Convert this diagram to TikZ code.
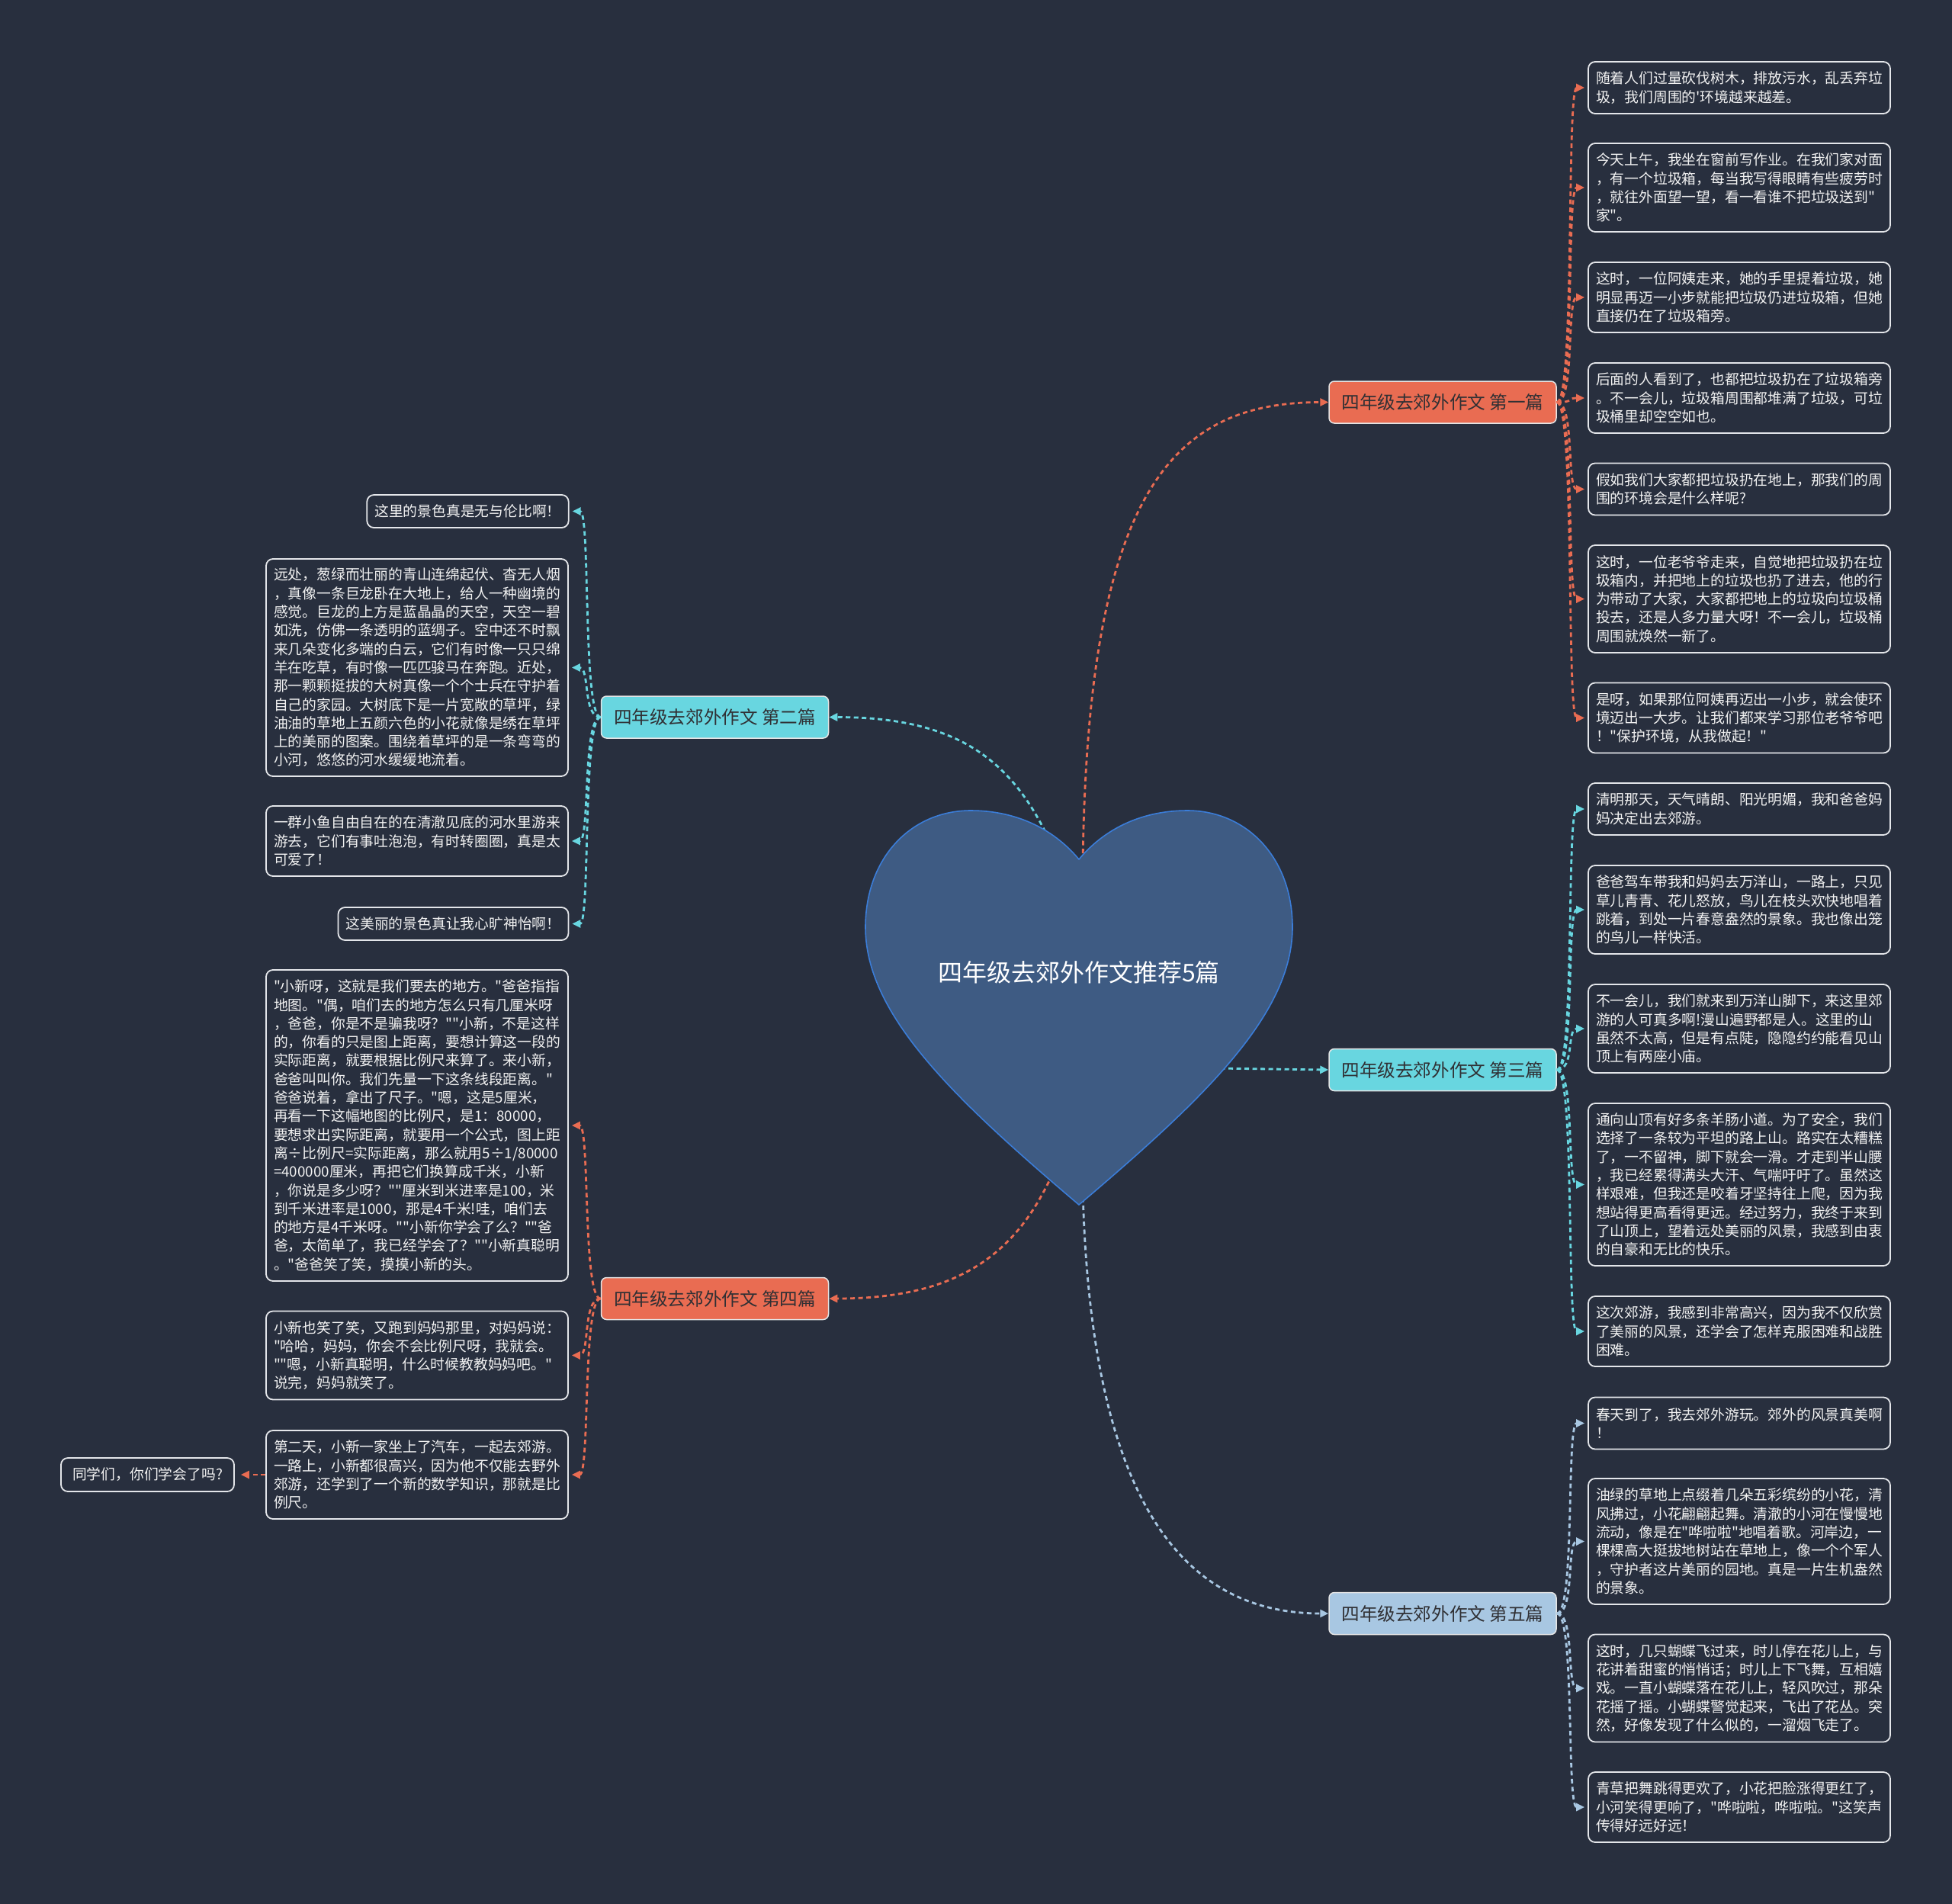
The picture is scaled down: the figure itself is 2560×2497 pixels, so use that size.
\documentclass[tikz,border=0pt]{standalone}
\usepackage{fontspec}
\newfontfamily\cjk{Noto Sans CJK SC}
\usetikzlibrary{arrows.meta,calc}
\definecolor{bg}{RGB}{40,47,62}
\definecolor{orangeC}{RGB}{233,108,82}
\definecolor{cyanC}{RGB}{104,214,224}
\definecolor{blueC}{RGB}{168,199,226}
\definecolor{leafline}{RGB}{228,230,234}
\definecolor{leaftext}{RGB}{242,242,242}
\definecolor{branchtext}{RGB}{48,48,52}
\definecolor{heartfill}{RGB}{62,91,131}
\definecolor{heartline}{RGB}{59,125,216}
\newcommand\leaffont{\cjk\fontsize{18.8pt}{24.3pt}\selectfont}
\newcommand\branchfont{\cjk\fontsize{23.6pt}{28pt}\selectfont}
\newcommand\titlefont{\cjk\fontsize{32pt}{38pt}\selectfont}
\begin{document}
\begin{tikzpicture}[x=1pt,y=-1pt,
  leaf/.style={draw=leafline, line width=1.8pt, rounded corners=9pt, fill=bg, text=leaftext, inner xsep=10pt, inner ysep=0pt, font=\leaffont},
  mleaf/.style={leaf, text width=376pt, align=left},
  branch/.style={draw=white!90!black, line width=1.5pt, rounded corners=7pt, minimum width=298pt, minimum height=55pt, inner sep=0pt, font=\branchfont, text=branchtext},
  conn/.style={dash pattern=on 6pt off 4.5pt, line width=2.8pt, -{Triangle[length=11pt,width=10pt]}}
]
\useasboundingbox (0,0) rectangle (2560,2497);
\fill[bg] (0,0) rectangle (2560,2497);

% branch nodes
\node[branch, fill=orangeC] (B1) at (1892,527.5) {四年级去郊外作文 第一篇};
\node[branch, fill=cyanC] (B2) at (937.5,940.5) {四年级去郊外作文 第二篇};
\node[branch, fill=cyanC] (B3) at (1892,1403) {四年级去郊外作文 第三篇};
\node[branch, fill=orangeC] (B4) at (937.5,1703) {四年级去郊外作文 第四篇};
\node[branch, fill=blueC] (B5) at (1892,2116) {四年级去郊外作文 第五篇};

% right leaves, branch 1
\node[mleaf, minimum height=68pt] (L1a) at (2281,115) {随着人们过量砍伐树木，排放污水，乱丢弃垃\\圾，我们周围的'环境越来越差。};
\node[mleaf, minimum height=116pt] (L1b) at (2281,246) {今天上午，我坐在窗前写作业。在我们家对面\\，有一个垃圾箱，每当我写得眼睛有些疲劳时\\，就往外面望一望，看一看谁不把垃圾送到"\\家"。};
\node[mleaf, minimum height=92pt] (L1c) at (2281,390) {这时，一位阿姨走来，她的手里提着垃圾，她\\明显再迈一小步就能把垃圾仍进垃圾箱，但她\\直接仍在了垃圾箱旁。};
\node[mleaf, minimum height=92pt] (L1d) at (2281,522) {后面的人看到了，也都把垃圾扔在了垃圾箱旁\\。不一会儿，垃圾箱周围都堆满了垃圾，可垃\\圾桶里却空空如也。};
\node[mleaf, minimum height=68pt] (L1e) at (2281,641.5) {假如我们大家都把垃圾扔在地上，那我们的周\\围的环境会是什么样呢?};
\node[mleaf, minimum height=141pt] (L1f) at (2281,785.5) {这时，一位老爷爷走来，自觉地把垃圾扔在垃\\圾箱内，并把地上的垃圾也扔了进去，他的行\\为带动了大家，大家都把地上的垃圾向垃圾桶\\投去，还是人多力量大呀！不一会儿，垃圾桶\\周围就焕然一新了。};
\node[mleaf, minimum height=92pt] (L1g) at (2281,941.5) {是呀，如果那位阿姨再迈出一小步，就会使环\\境迈出一大步。让我们都来学习那位老爷爷吧\\！"保护环境，从我做起！"};

% right leaves, branch 3
\node[mleaf, minimum height=68pt] (L3a) at (2281,1061) {清明那天，天气晴朗、阳光明媚，我和爸爸妈\\妈决定出去郊游。};
\node[mleaf, minimum height=116pt] (L3b) at (2281,1193) {爸爸驾车带我和妈妈去万洋山，一路上，只见\\草儿青青、花儿怒放，鸟儿在枝头欢快地唱着\\跳着，到处一片春意盎然的景象。我也像出笼\\的鸟儿一样快活。};
\node[mleaf, minimum height=116pt] (L3c) at (2281,1349) {不一会儿，我们就来到万洋山脚下，来这里郊\\游的人可真多啊!漫山遍野都是人。这里的山\\虽然不太高，但是有点陡，隐隐约约能看见山\\顶上有两座小庙。};
\node[mleaf, minimum height=213pt] (L3d) at (2281,1553.5) {通向山顶有好多条羊肠小道。为了安全，我们\\选择了一条较为平坦的路上山。路实在太糟糕\\了，一不留神，脚下就会一滑。才走到半山腰\\，我已经累得满头大汗、气喘吁吁了。虽然这\\样艰难，但我还是咬着牙坚持往上爬，因为我\\想站得更高看得更远。经过努力，我终于来到\\了山顶上，望着远处美丽的风景，我感到由衷\\的自豪和无比的快乐。};
\node[mleaf, minimum height=92pt] (L3e) at (2281,1746) {这次郊游，我感到非常高兴，因为我不仅欣赏\\了美丽的风景，还学会了怎样克服困难和战胜\\困难。};

% right leaves, branch 5
\node[mleaf, minimum height=68pt] (L5a) at (2281,1866.5) {春天到了，我去郊外游玩。郊外的风景真美啊\\！};
\node[mleaf, minimum height=165pt] (L5b) at (2281,2021.5) {油绿的草地上点缀着几朵五彩缤纷的小花，清\\风拂过，小花翩翩起舞。清澈的小河在慢慢地\\流动，像是在"哗啦啦"地唱着歌。河岸边，一\\棵棵高大挺拔地树站在草地上，像一个个军人\\，守护者这片美丽的园地。真是一片生机盎然\\的景象。};
\node[mleaf, minimum height=141pt] (L5c) at (2281,2214) {这时，几只蝴蝶飞过来，时儿停在花儿上，与\\花讲着甜蜜的悄悄话；时儿上下飞舞，互相嬉\\戏。一直小蝴蝶落在花儿上，轻风吹过，那朵\\花摇了摇。小蝴蝶警觉起来，飞出了花丛。突\\然，好像发现了什么似的，一溜烟飞走了。};
\node[mleaf, minimum height=92pt] (L5d) at (2281,2370) {青草把舞跳得更欢了，小花把脸涨得更红了，\\小河笑得更响了，"哗啦啦，哗啦啦。"这笑声\\传得好远好远！};

% left leaves, branch 2
\node[leaf, minimum width=263pt, minimum height=43pt] (L2a) at (613.5,670.5) {这里的景色真是无与伦比啊！};
\node[mleaf, minimum height=285pt] (L2b) at (547,875.5) {远处，葱绿而壮丽的青山连绵起伏、杳无人烟\\，真像一条巨龙卧在大地上，给人一种幽境的\\感觉。巨龙的上方是蓝晶晶的天空，天空一碧\\如洗，仿佛一条透明的蓝绸子。空中还不时飘\\来几朵变化多端的白云，它们有时像一只只绵\\羊在吃草，有时像一匹匹骏马在奔跑。近处，\\那一颗颗挺拔的大树真像一个个士兵在守护着\\自己的家园。大树底下是一片宽敞的草坪，绿\\油油的草地上五颜六色的小花就像是绣在草坪\\上的美丽的图案。围绕着草坪的是一条弯弯的\\小河，悠悠的河水缓缓地流着。};
\node[mleaf, minimum height=92pt] (L2c) at (547,1103) {一群小鱼自由自在的在清澈见底的河水里游来\\游去，它们有事吐泡泡，有时转圈圈，真是太\\可爱了！};
\node[leaf, minimum width=301pt, minimum height=43pt] (L2d) at (594.5,1211.5) {这美丽的景色真让我心旷神怡啊！};

% left leaves, branch 4
\node[mleaf, minimum height=408pt] (L4a) at (547,1476) {"小新呀，这就是我们要去的地方。"爸爸指指\\地图。"偶，咱们去的地方怎么只有几厘米呀\\，爸爸，你是不是骗我呀？""小新，不是这样\\的，你看的只是图上距离，要想计算这一段的\\实际距离，就要根据比例尺来算了。来小新，\\爸爸叫叫你。我们先量一下这条线段距离。"\\爸爸说着，拿出了尺子。"嗯，这是5厘米，\\再看一下这幅地图的比例尺，是1：80000，\\要想求出实际距离，就要用一个公式，图上距\\离÷比例尺=实际距离，那么就用5÷1/80000\\=400000厘米，再把它们换算成千米，小新\\，你说是多少呀？""厘米到米进率是100，米\\到千米进率是1000，那是4千米!哇，咱们去\\的地方是4千米呀。""小新你学会了么？""爸\\爸，太简单了，我已经学会了？""小新真聪明\\。"爸爸笑了笑，摸摸小新的头。};
\node[mleaf, minimum height=116pt] (L4b) at (547,1777.5) {小新也笑了笑，又跑到妈妈那里，对妈妈说：\\"哈哈，妈妈，你会不会比例尺呀，我就会。\\""嗯，小新真聪明，什么时候教教妈妈吧。"\\说完，妈妈就笑了。};
\node[mleaf, minimum height=116pt] (L4c) at (547,1934) {第二天，小新一家坐上了汽车，一起去郊游。\\一路上，小新都很高兴，因为他不仅能去野外\\郊游，还学到了一个新的数学知识，那就是比\\例尺。};
\node[leaf, minimum width=227pt, minimum height=44pt] (L4d) at (193.5,1934) {同学们，你们学会了吗?};

% connectors from heart
\coordinate (h1) at (1420,1140);
\coordinate (h2) at (1380,1110);
\coordinate (h3) at (1590,1401);
\coordinate (h4) at (1380,1540);
\coordinate (h5) at (1420,1560);
\draw[conn, orangeC] (h1) .. controls (1425,640) and (1540,527.5) .. (B1.west);
\draw[conn, cyanC] (h2) .. controls (1330,1000) and (1260,940.5) .. (B2.east);
\draw[conn, cyanC] (h3) -- (B3.west);
\draw[conn, orangeC] (h4) .. controls (1330,1650) and (1250,1703) .. (B4.east);
\draw[conn, blueC] (h5) .. controls (1430,1950) and (1540,2116) .. (B5.west);

% branch to leaves
\foreach \c in {L1a,L1b,L1c,L1d,L1e,L1f,L1g}
  \draw[conn, orangeC] (B1.east) .. controls +(24,0) and +(-24,0) .. ([xshift=-4pt]\c.west);
\foreach \c in {L3a,L3b,L3c,L3d,L3e}
  \draw[conn, cyanC] (B3.east) .. controls +(24,0) and +(-24,0) .. ([xshift=-4pt]\c.west);
\foreach \c in {L5a,L5b,L5c,L5d}
  \draw[conn, blueC] (B5.east) .. controls +(24,0) and +(-24,0) .. ([xshift=-4pt]\c.west);
\foreach \c in {L2a,L2b,L2c,L2d}
  \draw[conn, cyanC] (B2.west) .. controls +(-24,0) and +(24,0) .. ([xshift=4pt]\c.east);
\foreach \c in {L4a,L4b,L4c}
  \draw[conn, orangeC] (B4.west) .. controls +(-24,0) and +(24,0) .. ([xshift=4pt]\c.east);
\draw[conn, orangeC] (L4c.west) -- ([xshift=8pt]L4d.east);

% heart
\filldraw[fill=heartfill, draw=heartline, line width=1.6pt]
  (1415,1127) .. controls (1450,1085) and (1500,1063) .. (1557,1063)
  .. controls (1635,1063) and (1695,1125) .. (1695,1216)
  .. controls (1695,1330) and (1580,1440) .. (1415,1580)
  .. controls (1250,1440) and (1135,1330) .. (1135,1216)
  .. controls (1135,1125) and (1195,1063) .. (1273,1063)
  .. controls (1330,1063) and (1380,1085) .. cycle;
\node[font=\titlefont, text=white] (root) at (1415,1275) {四年级去郊外作文推荐5篇};
\end{tikzpicture}
\end{document}
